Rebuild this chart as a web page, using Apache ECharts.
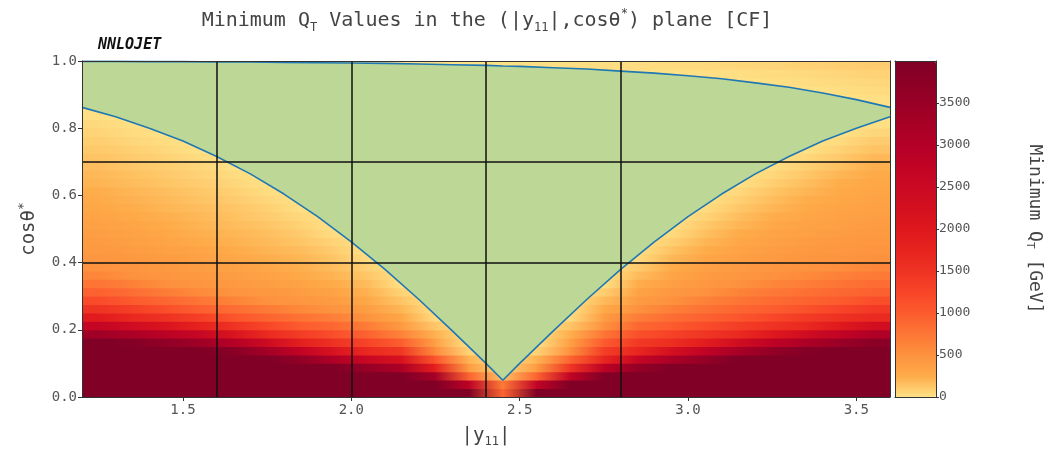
<!DOCTYPE html>
<html>
<head>
<meta charset="utf-8">
<script src="https://cdn.jsdelivr.net/npm/echarts@6/dist/echarts.min.js"></script>
<style>
  html, body { margin: 0; padding: 0; background: #fff; }
  #chart { width: 1050px; height: 451px; }
</style>
</head>
<body>
<div id="chart"></div>
<script>
// cell centres of the minimum-QT map
var rapCenters = [1.25, 1.35, 1.45, 1.55, 1.65, 1.75, 1.85, 1.95, 2.05, 2.15, 2.25, 2.35,
                  2.45, 2.55, 2.65, 2.75, 2.85, 2.95, 3.05, 3.15, 3.25, 3.35, 3.45, 3.55];
var cosCenters = [0.0125, 0.0375, 0.0625, 0.0875, 0.1125, 0.1375, 0.1625, 0.1875, 0.2125, 0.2375,
                  0.2625, 0.2875, 0.3125, 0.3375, 0.3625, 0.3875, 0.4125, 0.4375, 0.4625, 0.4875,
                  0.5125, 0.5375, 0.5625, 0.5875, 0.6125, 0.6375, 0.6625, 0.6875, 0.7125, 0.7375,
                  0.7625, 0.7875, 0.8125, 0.8375, 0.8625, 0.8875, 0.9125, 0.9375, 0.9625, 0.9875];

// minimum QT [GeV], one row per cos centre (bottom row first)
var qtMin = [
  [4000,4000,4000,4000,4000,4000,4000,4000,4000,4000,4000,4000,900,4000,4000,4000,4000,4000,4000,4000,4000,4000,4000,4000],
  [4000,4000,4000,4000,4000,4000,4000,4000,4000,4000,4000,2850,700,2720,4000,4000,4000,4000,4000,4000,4000,4000,4000,4000],
  [4000,4000,4000,4000,4000,4000,4000,4000,4000,4000,3280,920,150,920,2750,3950,4000,4000,4000,4000,4000,4000,4000,4000],
  [4000,4000,4000,4000,4000,4000,4000,4000,3520,3140,1840,400,50,400,1470,2830,3570,4000,4000,4000,4000,4000,4000,4000],
  [4000,4000,4000,4000,4000,4000,3640,3070,2560,2180,1070,210,0,210,920,1700,2630,3150,3600,4000,4000,4000,4000,4000],
  [4000,4000,4000,4000,3830,3310,2730,2130,1660,1450,550,65,0,65,500,1350,1700,2240,2740,3210,3600,3920,4000,4000],
  [4000,3890,3640,3400,2990,2440,1830,1510,1270,970,360,0,0,0,360,1000,1410,1580,1870,2370,2790,3150,3470,3780],
  [3370,3140,2870,2590,2150,1640,1380,1140,930,630,220,0,0,0,230,750,1120,1290,1470,1640,1980,2370,2710,3050],
  [2650,2380,2090,1780,1510,1240,1000,880,690,420,125,0,0,0,130,500,880,1000,1180,1350,1510,1660,1960,2330],
  [1920,1670,1520,1330,1080,920,790,670,480,290,30,0,0,0,30,390,690,830,940,1060,1230,1390,1530,1660],
  [1490,1340,1150,960,830,710,580,480,380,200,0,0,0,0,0,270,500,670,790,900,980,1110,1260,1410],
  [1180,1010,890,760,630,500,460,400,280,130,0,0,0,0,0,180,410,500,650,760,850,930,1000,1150],
  [940,830,700,560,480,450,400,330,220,65,0,0,0,0,0,90,330,440,500,630,730,810,880,950],
  [770,660,520,470,430,390,330,250,170,0,0,0,0,0,0,0,240,370,450,500,610,690,770,840],
  [610,500,470,430,390,340,270,210,120,0,0,0,0,0,0,0,170,310,400,460,500,570,650,720],
  [490,470,430,390,340,280,230,170,70,0,0,0,0,0,0,0,100,245,350,420,460,490,530,610],
  [460,430,400,350,290,240,200,130,20,0,0,0,0,0,0,0,30,190,300,370,420,460,480,500],
  [430,400,360,310,250,210,170,95,0,0,0,0,0,0,0,0,0,140,245,330,390,430,450,480],
  [410,370,320,260,220,180,130,60,0,0,0,0,0,0,0,0,0,80,200,290,350,400,430,450],
  [380,340,290,230,200,160,100,20,0,0,0,0,0,0,0,0,0,30,150,250,320,360,400,430],
  [350,310,250,210,170,130,70,0,0,0,0,0,0,0,0,0,0,0,110,200,280,330,370,410],
  [320,270,230,190,150,100,40,0,0,0,0,0,0,0,0,0,0,0,60,160,240,300,350,380],
  [290,240,200,165,130,80,10,0,0,0,0,0,0,0,0,0,0,0,20,120,200,270,320,360],
  [260,220,180,140,100,50,0,0,0,0,0,0,0,0,0,0,0,0,0,80,160,240,290,330],
  [240,200,160,120,80,20,0,0,0,0,0,0,0,0,0,0,0,0,0,40,130,200,270,310],
  [210,170,130,95,50,0,0,0,0,0,0,0,0,0,0,0,0,0,0,0,85,160,240,290],
  [190,150,110,70,30,0,0,0,0,0,0,0,0,0,0,0,0,0,0,0,45,120,200,260],
  [160,120,90,50,0,0,0,0,0,0,0,0,0,0,0,0,0,0,0,0,10,80,150,230],
  [140,100,65,30,0,0,0,0,0,0,0,0,0,0,0,0,0,0,0,0,0,40,110,190],
  [110,80,40,0,0,0,0,0,0,0,0,0,0,0,0,0,0,0,0,0,0,0,70,140],
  [90,50,20,0,0,0,0,0,0,0,0,0,0,0,0,0,0,0,0,0,0,0,30,100],
  [60,30,0,0,0,0,0,0,0,0,0,0,0,0,0,0,0,0,0,0,0,0,0,50],
  [40,5,0,0,0,0,0,0,0,0,0,0,0,0,0,0,0,0,0,0,0,0,0,10],
  [10,0,0,0,0,0,0,0,0,0,0,0,0,0,0,0,0,0,0,0,0,0,0,0],
  [0,0,0,0,0,0,0,0,0,0,0,0,0,0,0,0,0,0,0,0,0,0,0,0],
  [0,0,0,0,0,0,0,0,0,0,0,0,0,0,0,0,0,0,0,0,0,0,0,10],
  [0,0,0,0,0,0,0,0,0,0,0,0,0,0,0,0,0,0,0,0,0,0,12,28],
  [0,0,0,0,0,0,0,0,0,0,0,0,0,0,0,0,0,0,0,0,8,18,32,48],
  [0,0,0,0,0,0,0,0,0,0,0,0,0,0,0,0,0,3,8,15,25,38,52,68],
  [0,0,0,0,0,0,0,0,0,0,0,0,5,8,12,18,22,28,35,45,55,68,82,98]
];

// acceptance boundaries (blue curves)
var curveX = [1.2, 1.3, 1.4, 1.5, 1.6, 1.7, 1.8, 1.9, 2.0, 2.1, 2.2, 2.3, 2.4, 2.45,
              2.5, 2.6, 2.7, 2.8, 2.9, 3.0, 3.1, 3.2, 3.3, 3.4, 3.5, 3.6];
var lowerCos = [0.862, 0.834, 0.800, 0.762, 0.716, 0.664, 0.604, 0.537, 0.462, 0.380, 0.291, 0.197, 0.100, 0.050,
                0.100, 0.197, 0.291, 0.380, 0.462, 0.537, 0.604, 0.664, 0.716, 0.762, 0.800, 0.834];
var upperCos = [0.999, 0.999, 0.998, 0.998, 0.997, 0.997, 0.996, 0.995, 0.994, 0.993, 0.991, 0.989, 0.987, 0.985,
                0.984, 0.980, 0.976, 0.970, 0.964, 0.956, 0.947, 0.935, 0.922, 0.905, 0.885, 0.862];

// bin edges (black lines) and tick labels
var binEdgesX = [1.6, 2.0, 2.4, 2.8];
var binEdgesY = [0.4, 0.7];
var xTicks = [1.5, 2.0, 2.5, 3.0, 3.5];

var cbColors = ['#fee186','#feab49','#fd923e','#fd7635','#fc5b2e','#f84528','#ee3323','#e7231e','#de171d',
                '#d41020','#ca0923','#c10325','#b40026','#a70026','#990026','#8c0026','#800026'];
var qtMax = 4000;

var font = "'DejaVu Sans Mono', monospace";
var cellW = rapCenters[1] - rapCenters[0];
var cellH = cosCenters[1] - cosCenters[0];
var nCol = rapCenters.length;

function qtColor(v) {
  return echarts.color.lerp(Math.max(0, Math.min(v, qtMax)) / qtMax, cbColors);
}

// strips between neighbouring cell centres, shaded from one cell value to the next
// item: [cos centre, left column index, right column index, row index]
var heat = [];
for (var i = 0; i < cosCenters.length; i++) {
  for (var j = 0; j <= nCol; j++) {
    heat.push([cosCenters[i], Math.max(j - 1, 0), Math.min(j, nCol - 1), i]);
  }
}
var lowerData = curveX.map(function (x, k) { return [x, lowerCos[k]]; });
var upperData = curveX.map(function (x, k) { return [x, upperCos[k]]; });

var edgeLines = binEdgesX.map(function (v) { return { xAxis: v }; })
  .concat(binEdgesY.map(function (v) { return { yAxis: v }; }));

var frameLine = { show: true, onZero: false, lineStyle: { color: '#333', width: 1 } };
function bareAxis(extra) {
  var a = { type: 'value', axisLine: frameLine, axisTick: { show: false }, axisLabel: { show: false },
            splitLine: { show: false }, z: 10 };
  for (var k in extra) a[k] = extra[k];
  return a;
}

var chart = echarts.init(document.getElementById('chart'));
var option = {
  animation: false,
  backgroundColor: '#fff',
  title: {
    text: 'Minimum Q{sub|T} Values in the (|y{sub|11}|,cosθ{sup|*}) plane [CF]',
    left: 487, top: 8, textAlign: 'center', padding: 0,
    textStyle: {
      fontFamily: font, fontSize: 20, fontWeight: 'normal', color: '#444', lineHeight: 26,
      rich: {
        sub: { fontFamily: font, fontSize: 12, color: '#444', verticalAlign: 'bottom', lineHeight: 14 },
        sup: { fontFamily: font, fontSize: 12, color: '#444', verticalAlign: 'top', lineHeight: 14 }
      }
    }
  },
  graphic: [{
    type: 'text', left: 98, top: 38,
    style: { text: 'NNLOJET', fontFamily: font, fontSize: 15, fontWeight: 'bold', fontStyle: 'italic', fill: '#111' }
  }],
  grid: [
    { left: 82, top: 61, width: 808, height: 336, containLabel: false, outerBoundsMode: 'none' },
    { left: 895, top: 61, width: 41, height: 336, containLabel: false, outerBoundsMode: 'none' }
  ],
  xAxis: [
    {
      type: 'value', gridIndex: 0, min: 1.2, max: 3.6, z: 10,
      axisLine: frameLine,
      axisTick: { show: true, length: 4, lineStyle: { color: '#333' }, customValues: xTicks },
      axisLabel: { fontFamily: font, fontSize: 14, color: '#555', margin: 6, customValues: xTicks,
                   formatter: function (v) { return v.toFixed(1); } },
      splitLine: { show: false },
      name: '|y{sub|11}|', nameLocation: 'middle', nameGap: 27,
      nameTextStyle: { fontFamily: font, fontSize: 19, color: '#444', lineHeight: 24,
                       rich: { sub: { fontFamily: font, fontSize: 12, color: '#444', verticalAlign: 'bottom', lineHeight: 12 } } }
    },
    bareAxis({ gridIndex: 0, min: 1.2, max: 3.6, position: 'top' }),
    bareAxis({ gridIndex: 1, min: 0, max: 1 }),
    bareAxis({ gridIndex: 1, min: 0, max: 1, position: 'top' })
  ],
  yAxis: [
    {
      type: 'value', gridIndex: 0, min: 0, max: 1, interval: 0.2, z: 10,
      axisLine: frameLine,
      axisTick: { show: true, length: 4, lineStyle: { color: '#333' } },
      axisLabel: { fontFamily: font, fontSize: 14, color: '#555', margin: 5,
                   formatter: function (v) { return v.toFixed(1); } },
      splitLine: { show: false },
      name: 'cosθ{sup|*}', nameLocation: 'middle', nameGap: 30, nameRotate: 90,
      nameTextStyle: { fontFamily: font, fontSize: 19, color: '#444', lineHeight: 24,
                       rich: { sup: { fontFamily: font, fontSize: 13, color: '#444', verticalAlign: 'top', lineHeight: 12 } } }
    },
    bareAxis({ gridIndex: 0, min: 0, max: 1, position: 'right' }),
    {
      type: 'value', gridIndex: 1, min: 0, max: qtMax, interval: 500, position: 'right', z: 10,
      axisLine: frameLine,
      axisTick: { show: true, length: 3, lineStyle: { color: '#333' } },
      axisLabel: { fontFamily: font, fontSize: 13, color: '#555', margin: 3, showMaxLabel: false,
                   formatter: function (v) { return String(v); } },
      splitLine: { show: false },
      name: 'Minimum Q{sub|T} [GeV]', nameLocation: 'middle', nameGap: 88, nameRotate: -90,
      nameTextStyle: { fontFamily: font, fontSize: 18, color: '#444', lineHeight: 22,
                       rich: { sub: { fontFamily: font, fontSize: 11, color: '#444', verticalAlign: 'bottom', lineHeight: 11 } } }
    },
    bareAxis({ gridIndex: 1, min: 0, max: qtMax, position: 'left' })
  ],
  visualMap: {
    type: 'continuous', min: 0, max: qtMax, dimension: 3, seriesIndex: 0,
    orient: 'vertical', left: 895, top: 61, itemWidth: 41, itemHeight: 336,
    padding: 0, calculable: false, realtime: false, hoverLink: false,
    inRange: { color: cbColors }
  },
  series: [
    {
      type: 'custom', name: 'qt', xAxisIndex: 0, yAxisIndex: 0, z: 1, clip: true, silent: true,
      data: heat,
      renderItem: function (params, api) {
        var y = api.value(0), jl = api.value(1), jr = api.value(2), row = api.value(3);
        var xl = jl === jr ? rapCenters[jl] + (jl === 0 ? -cellW / 2 : 0) : rapCenters[jl];
        var xr = jl === jr ? rapCenters[jr] + (jr === 0 ? 0 : cellW / 2) : rapCenters[jr];
        var p0 = api.coord([xl, y + cellH / 2]);
        var p1 = api.coord([xr, y - cellH / 2]);
        var cl = qtColor(qtMin[row][jl]), cr = qtColor(qtMin[row][jr]);
        return {
          type: 'rect',
          shape: { x: p0[0] - 0.5, y: p0[1] - 0.4, width: p1[0] - p0[0] + 1, height: p1[1] - p0[1] + 0.8 },
          style: {
            fill: new echarts.graphic.LinearGradient(0, 0, 1, 0, [
              { offset: 0, color: cl }, { offset: 1, color: cr }
            ])
          }
        };
      }
    },
    {
      // green accepted region between the curves
      type: 'custom', name: 'accepted', xAxisIndex: 0, yAxisIndex: 0, z: 2, clip: true, silent: true,
      data: [[2.4, 0.5]],
      renderItem: function (params, api) {
        var pts = [];
        for (var k = 0; k < curveX.length; k++) pts.push(api.coord([curveX[k], upperCos[k]]));
        for (var m = curveX.length - 1; m >= 0; m--) pts.push(api.coord([curveX[m], lowerCos[m]]));
        return { type: 'polygon', shape: { points: pts }, style: { fill: '#bdd896' } };
      }
    },
    {
      type: 'line', name: 'lower', xAxisIndex: 0, yAxisIndex: 0, z: 4,
      data: lowerData, symbol: 'none', silent: true,
      lineStyle: { color: '#1f77b4', width: 1.6 }
    },
    {
      type: 'line', name: 'upper', xAxisIndex: 0, yAxisIndex: 0, z: 4,
      data: upperData, symbol: 'none', silent: true,
      lineStyle: { color: '#1f77b4', width: 1.6 }
    },
    {
      type: 'line', name: 'edges', xAxisIndex: 0, yAxisIndex: 0, z: 5, data: [], silent: true,
      markLine: {
        silent: true, symbol: ['none', 'none'], animation: false,
        label: { show: false },
        lineStyle: { color: '#111', width: 1.5, type: 'solid' },
        data: edgeLines
      }
    }
  ]
};
chart.setOption(option);
</script>
</body>
</html>
